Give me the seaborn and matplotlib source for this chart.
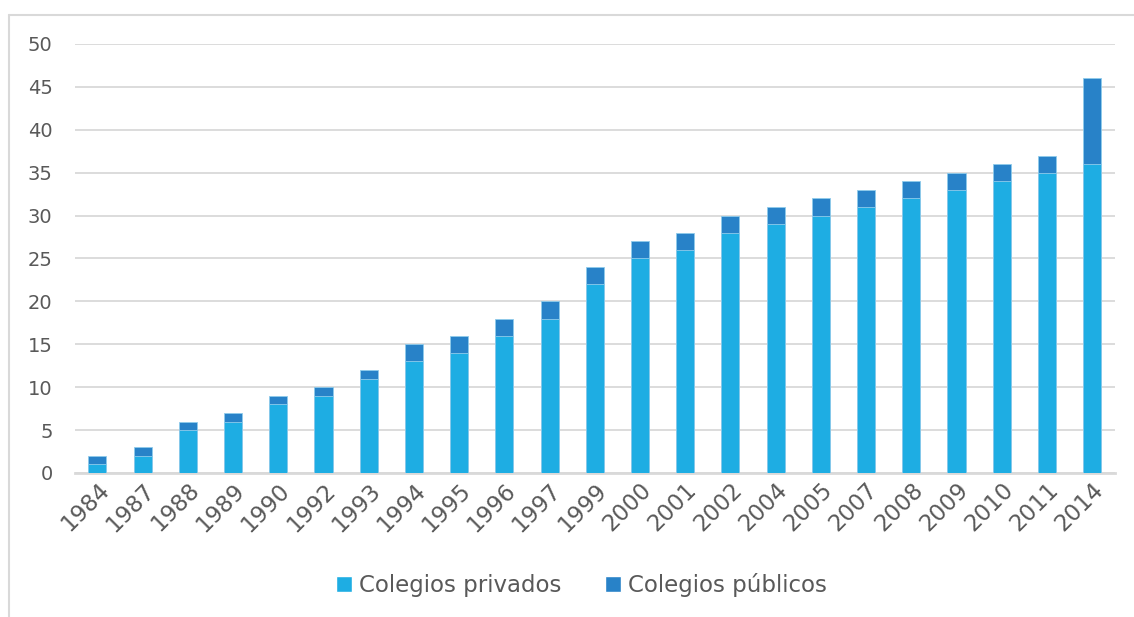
import matplotlib
matplotlib.use("Agg")
import matplotlib.pyplot as plt
import seaborn as sns
import pandas as pd
from matplotlib.patches import Patch
from matplotlib.lines import Line2D

# Data
years = ["1984", "1987", "1988", "1989", "1990", "1992", "1993", "1994", "1995",
         "1996", "1997", "1999", "2000", "2001", "2002", "2004", "2005", "2007",
         "2008", "2009", "2010", "2011", "2014"]
privados = [1, 2, 5, 6, 8, 9, 11, 13, 14, 16, 18, 22, 25, 26, 28, 29, 30, 31, 32, 33, 34, 35, 36]
publicos = [1, 1, 1, 1, 1, 1, 1, 2, 2, 2, 2, 2, 2, 2, 2, 2, 2, 2, 2, 2, 2, 2, 10]

COLOR_PRIV = "#1EADE3"
COLOR_PUB = "#2882C8"
TEXT = "#595959"
GRID = "#D9D9D9"

df = pd.DataFrame({"Año": years, "privados": privados, "publicos": publicos})
df["total"] = df["privados"] + df["publicos"]

sns.set_theme(style="white")
plt.rcParams["font.family"] = ["DejaVu Sans"]

fig = plt.figure(figsize=(11.34, 6.17), dpi=100)
ax = fig.add_axes([0.066, 0.2334, 0.917, 0.6953])

# stacked bars: total underneath (públicos colour), privados on top of it
sns.barplot(data=df, x="Año", y="total", color=COLOR_PUB, saturation=1,
            width=0.4, edgecolor="#8FCBEB", linewidth=0.6, ax=ax, zorder=3)
sns.barplot(data=df, x="Año", y="privados", color=COLOR_PRIV, saturation=1,
            width=0.4, edgecolor="#8FCBEB", linewidth=0.6, ax=ax, zorder=4)

ax.set_ylim(0, 50)
ax.set_xlim(-0.5, len(years) - 0.5)
ax.set_yticks(range(0, 51, 5))
ax.yaxis.grid(True, color=GRID, linewidth=1.3, zorder=0)
ax.set_axisbelow(True)
for side in ["top", "right", "left"]:
    ax.spines[side].set_visible(False)
ax.spines["bottom"].set_color(GRID)
ax.spines["bottom"].set_linewidth(2)
ax.set_xlabel("")
ax.set_ylabel("")
ax.tick_params(axis="y", length=0, labelsize=14, labelcolor=TEXT, pad=16)
ax.tick_params(axis="x", length=0, labelsize=16.5, labelcolor=TEXT, pad=4)
plt.setp(ax.get_xticklabels(), rotation=45, ha="right", va="top",
         rotation_mode="anchor")

handles = [Patch(facecolor=COLOR_PRIV, label="Colegios privados"),
           Patch(facecolor=COLOR_PUB, label="Colegios públicos")]
fig.legend(handles=handles, loc="center", bbox_to_anchor=(0.513, 0.052),
           ncol=2, frameon=False, fontsize=16.5, labelcolor=TEXT,
           handlelength=0.7, handleheight=0.7, handletextpad=0.3,
           columnspacing=1.9)

# light chart-area border (left and top only)
fig.add_artist(Line2D([9 / 1134, 9 / 1134], [0, 1 - 15 / 617],
                      transform=fig.transFigure, color=GRID, linewidth=1.5))
fig.add_artist(Line2D([9 / 1134, 1], [1 - 15 / 617, 1 - 15 / 617],
                      transform=fig.transFigure, color=GRID, linewidth=1.5))

fig.savefig("out.png", dpi=100)
